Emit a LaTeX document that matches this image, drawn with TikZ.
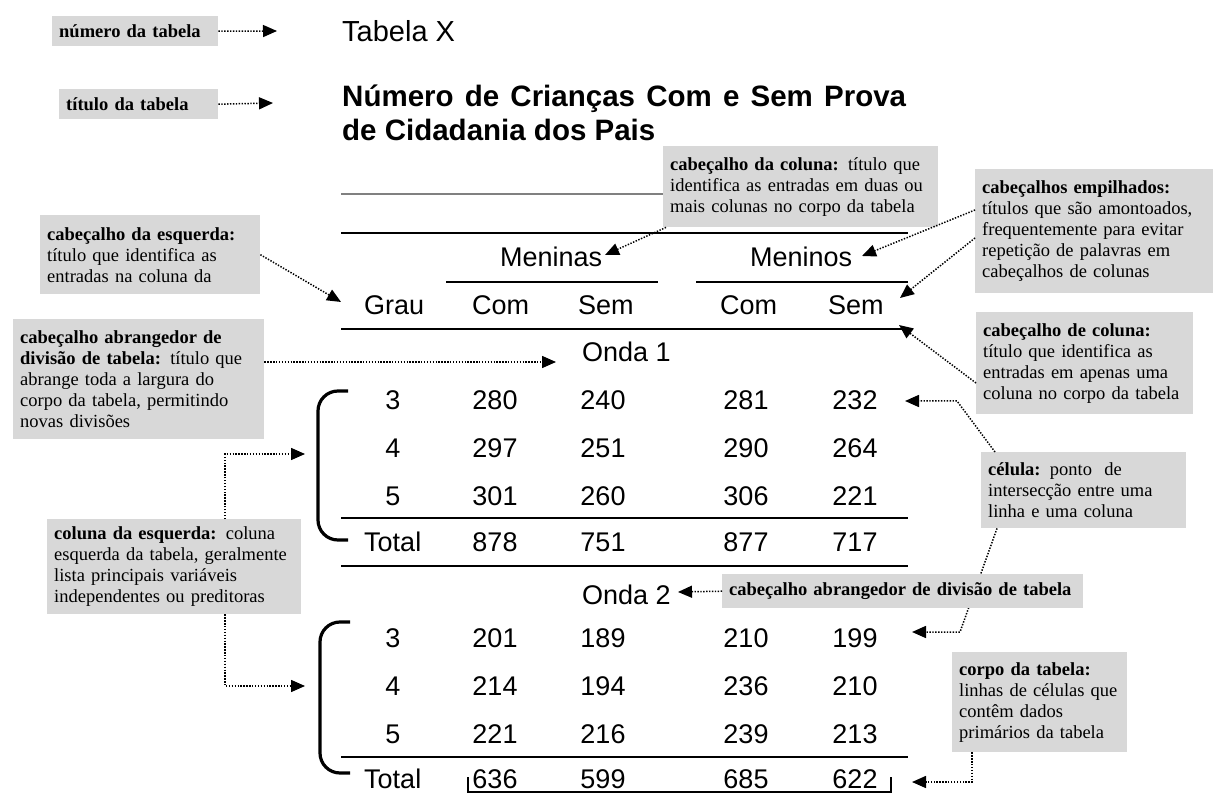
\documentclass[tikz,border=0pt]{standalone}
\usepackage{fontspec}
\usepackage{xcolor}
\usepackage{tikz}
\usetikzlibrary{arrows.meta}
\newfontfamily\notefont{Liberation Serif}
\newfontfamily\tabfont{Liberation Sans}
\definecolor{notegray}{RGB}{216,216,216}

\tikzset{
  note/.style={fill=notegray, anchor=north west, align=left, inner xsep=7pt, inner ysep=2pt,
    font=\notefont\fontsize{18.5}{21}\selectfont},
  entry/.style={inner sep=0pt, font=\tabfont\fontsize{27}{32}\selectfont},
  headline/.style={inner sep=0pt, anchor=base west, font=\tabfont\bfseries\fontsize{29.5}{34}\selectfont},
  rule/.style={line width=2.6pt},
  brace/.style={line width=3.2pt, rounded corners=20pt},
  pointer/.style={line width=1.5pt, dash pattern=on 1.4pt off 1.5pt, -{Triangle[length=14pt,width=12pt]}},
}

\begin{document}
\begin{tikzpicture}[x=1pt,y=-1pt]
    \useasboundingbox (0,0) rectangle (1213,799);

    % titulo
    \node[entry,anchor=base west,font=\tabfont\fontsize{29}{34}\selectfont] (tab) at (342,42) {Tabela X};
    \node[headline] (tita) at (342,107) {\makebox[564pt][s]{Número de Crianças Com e Sem Prova}};
    \node[headline] (titb) at (342,141) {de Cidadania dos Pais};

    % linhas da tabela
    \draw[line width=1.4pt,draw=gray] (341,194) -- (700,194);
    \draw[rule] (341,233) -- (908,233);
    \draw[rule] (446,282) -- (658,282);
    \draw[rule] (696,282) -- (908,282);
    \draw[rule] (341,329) -- (906,329);
    \draw[rule] (341,518) -- (908,518);
    \draw[rule] (341,566) -- (908,566);
    \draw[rule] (341,757) -- (908,757);

    % chaves
    \draw[brace] (348,391) -- (318,391) -- (318,540) -- (348,540);
    \draw[brace] (350,622) -- (320,622) -- (320,773) -- (350,773);
    \draw[line width=2.8pt] (468,777) -- (468,792) -- (891,792) -- (891,777);

    % cabecalhos
    \node[entry,anchor=base west] (meninas) at (500,267) {Meninas};
    \node[entry,anchor=base west] (meninos) at (750,267) {Meninos};
    \node[entry,anchor=base west] (grau) at (364,315) {Grau};
    \node[entry,anchor=base west] (coma) at (472,315) {Com};
    \node[entry,anchor=base west] (sema) at (578,315) {Sem};
    \node[entry,anchor=base west] (comb) at (720,315) {Com};
    \node[entry,anchor=base west] (semb) at (828,315) {Sem};
    \node[entry,anchor=base west] (ondaa) at (582,362) {Onda 1};
    \node[entry,anchor=base west] (ondab) at (582,604) {Onda 2};

    % corpo
    \foreach \y/\g/\a/\b/\c/\d in {400/3/280/240/281/232, 448/4/297/251/290/264, 496/5/301/260/306/221,
        638/3/201/189/210/199, 686/4/214/194/236/210, 734/5/221/216/239/213} {
      \node[entry] (g\y) at (393,\y) {\g};
      \node[entry] (a\y) at (495,\y) {\a};
      \node[entry] (b\y) at (603,\y) {\b};
      \node[entry] (c\y) at (746,\y) {\c};
      \node[entry] (d\y) at (855,\y) {\d};
    }
    \foreach \y/\a/\b/\c/\d in {542/878/751/877/717, 779/636/599/685/622} {
      \node[entry,anchor=west] (g\y) at (364,\y) {Total};
      \node[entry] (a\y) at (495,\y) {\a};
      \node[entry] (b\y) at (603,\y) {\b};
      \node[entry] (c\y) at (746,\y) {\c};
      \node[entry] (d\y) at (855,\y) {\d};
    }

    % pontos das setas
    \coordinate (p1) at (277,31);
    \coordinate (p2) at (273,103);
    \coordinate (p3) at (341,302);
    \coordinate (p4) at (556,362);
    \coordinate (p5) at (305,454);
    \coordinate (p6) at (305,686);
    \coordinate (p7) at (605,255);
    \coordinate (p8) at (862,256);
    \coordinate (p9) at (900,298);
    \coordinate (p10) at (899,325);
    \coordinate (k11) at (957,401);
    \coordinate (p11) at (905,401);
    \coordinate (k12) at (960,632);
    \coordinate (p12) at (912,632);
    \coordinate (p13) at (678,592);
    \coordinate (p14) at (912,782);

    % caixas da esquerda
    \node[note, text width=152pt, minimum height=30pt] (numtab) at (52,16) {\textbf{número da tabela}};
    \node[note, text width=145pt, minimum height=30pt] (tittab) at (59,89) {\textbf{título da tabela}};
    \node[note, text width=206pt, minimum height=79pt] (lefthead) at (40,215)
      {\textbf{cabeçalho da esquerda:}\\título que identifica as\\entradas na coluna da};
    \node[note, text width=237pt, minimum height=120pt] (spanone) at (13,319)
      {\textbf{cabeçalho abrangedor de}\\\textbf{divisão de tabela:} título que\\abrange toda a largura do\\corpo da tabela, permitindo\\novas divisões};
    \node[note, text width=240pt, minimum height=95pt] (leftcol) at (47,519)
      {\textbf{coluna da esquerda:} coluna\\esquerda da tabela, geralmente\\lista principais variáveis\\independentes ou preditoras};

    % caixas da direita
    \node[note, text width=261pt, minimum height=81pt] (colhead) at (663,146)
      {\textbf{cabeçalho da coluna:} título que\\identifica as entradas em duas ou\\mais colunas no corpo da tabela};
    \node[note, text width=224pt, minimum height=124pt] (stackhead) at (975,169)
      {\textbf{cabeçalhos empilhados:}\\títulos que são amontoados,\\frequentemente para evitar\\repetição de palavras em\\cabeçalhos de colunas};
    \node[note, text width=203pt, minimum height=102pt] (onecol) at (976,312)
      {\textbf{cabeçalho de coluna:}\\título que identifica as\\entradas em apenas uma\\coluna no corpo da tabela};
    \node[note, text width=191pt, minimum height=76pt] (cellnote) at (981,452)
      {\textbf{célula:} ponto\ \ de\\intersecção entre uma\\linha e uma coluna};
    \draw[pointer] ([xshift=16pt]cellnote.south west) -- (k12) -- (p12);
    \node[note, text width=347pt, minimum height=34pt] (spantwo) at (722,574)
      {\textbf{cabeçalho abrangedor de divisão de tabela}};
    \node[note, text width=161pt, minimum height=100pt] (bodynote) at (952,652)
      {\textbf{corpo da tabela:}\\linhas de células que\\contêm dados\\primários da tabela};

    % setas
    \draw[pointer] (numtab.east) -- (p1);
    \draw[pointer] (tittab.east) -- (p2);
    \draw[pointer] (lefthead.east) -- (p3);
    \draw[pointer] (spanone.east |- p4) -- (p4);
    \draw[pointer] ([xshift=178pt]leftcol.north west) |- (p5);
    \draw[pointer] ([xshift=178pt]leftcol.south west) |- (p6);
    \draw[pointer] ([xshift=3pt]colhead.south west) -- (p7);
    \draw[pointer] ([yshift=-41pt]stackhead.north west) -- (p8);
    \draw[pointer] ([yshift=-69pt]stackhead.north west) -- (p9);
    \draw[pointer] ([yshift=-71pt]onecol.north west) -- (p10);
    \draw[pointer] ([xshift=14pt]cellnote.north west) -- (k11) -- (p11);
    \draw[pointer] (spantwo.west) -- (p13);
    \draw[pointer] ([xshift=20pt]bodynote.south west) |- (p14);
\end{tikzpicture}
\end{document}
